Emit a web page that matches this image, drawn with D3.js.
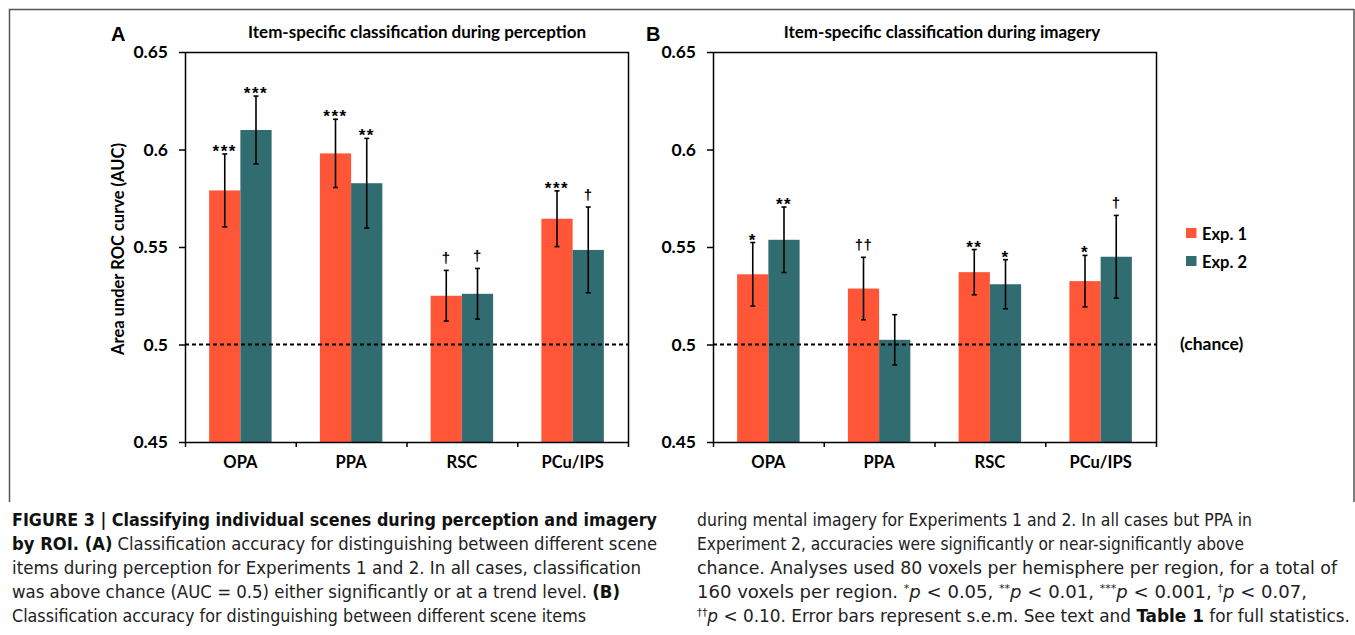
<!DOCTYPE html>
<html>
<head>
<meta charset="utf-8">
<script src="https://cdn.jsdelivr.net/npm/d3@7"></script>
<style>
  html, body { margin: 0; padding: 0; background: #fff; }
  svg { display: block; }
  .chart-text { font-family: Lato, "Open Sans", "DejaVu Sans", sans-serif; font-weight: bold; fill: #000; }
  .sig-text { font-family: "Liberation Sans", Arial, sans-serif; font-weight: bold; fill: #000; }
  .caption { font-family: "Liberation Sans Narrow", "DejaVu Sans Condensed", Roboto, sans-serif; font-size: 18px; fill: #222; }
</style>
</head>
<body>
<svg id="fig" width="1355" height="635"></svg>
<script>
// ROI categories and experiments
const categories = ["OPA", "PPA", "RSC", "PCu/IPS"];
const series = ["Exp. 1", "Exp. 2"];
const seriesColors = ["#FF5637", "#306C70"];

// y-axis ticks
const yTicks = [0.45, 0.5, 0.55, 0.6, 0.65];
const yTickLabels = ["0.45", "0.5", "0.55", "0.6", "0.65"];
const chanceLevel = 0.5;

// Panel A: perception (mean AUC and s.e.m.)
const perceptionExp1 = [0.579, 0.598, 0.525, 0.5645];
const perceptionExp1Err = [0.0187, 0.0175, 0.013, 0.0143];
const perceptionExp2 = [0.610, 0.5827, 0.526, 0.5485];
const perceptionExp2Err = [0.0174, 0.023, 0.013, 0.022];
const perceptionSig1 = ["***", "***", "\u2020", "***"];
const perceptionSig2 = ["***", "**", "\u2020", "\u2020"];

// Panel B: imagery (mean AUC and s.e.m.)
const imageryExp1 = [0.536, 0.5287, 0.5371, 0.5325];
const imageryExp1Err = [0.0163, 0.016, 0.0116, 0.0132];
const imageryExp2 = [0.5537, 0.5024, 0.5309, 0.545];
const imageryExp2Err = [0.0168, 0.0129, 0.0126, 0.0212];
const imagerySig1 = ["*", "\u2020\u2020", "**", "*"];
const imagerySig2 = ["**", "", "*", "\u2020"];

const svg = d3.select("#fig");

// outer figure frame
svg.append("path")
  .attr("d", "M9.5,502 L9.5,9.5 L1354,9.5 L1354,502")
  .attr("fill", "none").attr("stroke", "#555").attr("stroke-width", 1.5);

const plotTop = 52, plotBottom = 442;
const y = d3.scaleLinear().domain([0.45, 0.65]).range([plotBottom, plotTop]);

function panel(opts) {
  const { left, right, letter, letterX, title, titleX, means, errs, sigs } = opts;
  const g = svg.append("g");
  const x = d3.scaleBand().domain(categories).range([left, right]).paddingInner(0).paddingOuter(0);
  const xs = d3.scaleBand().domain(series).range([x.bandwidth() * 0.218, x.bandwidth() * 0.782]);

  // plot frame (top and right edges)
  g.append("path")
    .attr("d", `M${left},${plotTop + 0.5} H${right + 0.5} V${plotBottom}`)
    .attr("fill", "none").attr("stroke", "#000").attr("stroke-width", 1.5);

  // bars
  const rows = [];
  categories.forEach((c, i) => {
    series.forEach((s, j) => {
      rows.push({ c, s, j, v: means[j][i], e: errs[j][i], sig: sigs[j][i] });
    });
  });

  g.selectAll("rect.bar").data(rows).join("rect")
    .attr("class", "bar")
    .attr("x", d => x(d.c) + xs(d.s))
    .attr("width", xs.bandwidth())
    .attr("y", d => y(d.v))
    .attr("height", d => y(0.45) - y(d.v))
    .attr("fill", d => seriesColors[d.j]);

  // chance line
  g.append("line")
    .attr("x1", left).attr("x2", right)
    .attr("y1", y(chanceLevel)).attr("y2", y(chanceLevel))
    .attr("stroke", "#000").attr("stroke-width", 2).attr("stroke-dasharray", "4,3");

  // error bars
  const eb = g.selectAll("g.err").data(rows).join("g").attr("class", "err")
    .attr("transform", d => `translate(${x(d.c) + xs(d.s) + xs.bandwidth() / 2},0)`);
  eb.append("line")
    .attr("y1", d => y(d.v + d.e)).attr("y2", d => y(d.v - d.e))
    .attr("stroke", "#000").attr("stroke-width", 1.6);
  eb.append("line").attr("x1", -2.5).attr("x2", 2.5)
    .attr("y1", d => y(d.v + d.e)).attr("y2", d => y(d.v + d.e))
    .attr("stroke", "#000").attr("stroke-width", 1.6);
  eb.append("line").attr("x1", -2.5).attr("x2", 2.5)
    .attr("y1", d => y(d.v - d.e)).attr("y2", d => y(d.v - d.e))
    .attr("stroke", "#000").attr("stroke-width", 1.6);

  // significance markers
  eb.append("text")
    .attr("class", "sig-text")
    .attr("text-anchor", "middle")
    .attr("font-size", d => d.sig.includes("*") ? 17 : 15)
    .attr("letter-spacing", d => d.sig.includes("*") ? 1.5 : 0.5)
    .attr("y", d => y(d.v + d.e) - (d.sig.includes("*") ? -3 : 7))
    .text(d => d.sig);

  // y axis
  const yAxis = g.append("g")
    .attr("transform", `translate(${left},0)`)
    .call(d3.axisLeft(y).tickValues(yTicks).tickFormat((d, i) => yTickLabels[i]).tickSize(6).tickPadding(11).tickSizeOuter(0));
  yAxis.select(".domain").attr("stroke-width", 1.5);
  yAxis.selectAll(".tick line").attr("stroke-width", 1.5);
  yAxis.selectAll(".tick text").attr("class", "chart-text").attr("font-size", 17.5);

  // x axis: baseline with ticks at category boundaries
  const xb = d3.scaleLinear().domain([0, categories.length]).range([left, right]);
  const xAxis = g.append("g")
    .attr("transform", `translate(0,${plotBottom})`)
    .call(d3.axisBottom(xb).ticks(categories.length).tickFormat("").tickSize(5).tickSizeOuter(0));
  xAxis.select(".domain").attr("stroke-width", 1.5);
  xAxis.selectAll(".tick line").attr("stroke-width", 1.5);

  const xLabels = g.append("g")
    .attr("transform", `translate(0,${plotBottom})`)
    .call(d3.axisBottom(x).tickSize(0).tickPadding(14));
  xLabels.select(".domain").remove();
  xLabels.selectAll(".tick text").attr("class", "chart-text").attr("font-size", 16.5);

  // panel letter and title
  svg.append("text").attr("x", letterX).attr("y", 41)
    .attr("font-family", "Liberation Sans, Arial, sans-serif").attr("font-weight", "bold")
    .attr("font-size", 20).text(letter);
  svg.append("text").attr("class", "chart-text").attr("x", titleX).attr("y", 38)
    .attr("text-anchor", "middle").attr("font-size", 17).text(title);
}

panel({
  left: 185, right: 628, letter: "A", letterX: 111,
  title: "Item-specific classification during perception", titleX: 417,
  means: [perceptionExp1, perceptionExp2], errs: [perceptionExp1Err, perceptionExp2Err],
  sigs: [perceptionSig1, perceptionSig2]
});
panel({
  left: 713, right: 1156, letter: "B", letterX: 646,
  title: "Item-specific classification during imagery", titleX: 942,
  means: [imageryExp1, imageryExp2], errs: [imageryExp1Err, imageryExp2Err],
  sigs: [imagerySig1, imagerySig2]
});

// y-axis title
svg.append("text").attr("class", "chart-text")
  .attr("transform", `translate(124,${(plotTop + plotBottom) / 2 + 2}) rotate(-90)`)
  .attr("text-anchor", "middle").attr("font-size", 16.5)
  .text("Area under ROC curve (AUC)");

// legend
const legend = svg.append("g").attr("transform", "translate(1186,228)");
series.forEach((s, i) => {
  legend.append("rect").attr("x", 0).attr("y", i * 28).attr("width", 10.5).attr("height", 10)
    .attr("fill", seriesColors[i]);
  legend.append("text").attr("class", "chart-text").attr("x", 16).attr("y", i * 28 + 11.5)
    .attr("font-size", 16.5).text(s);
});
svg.append("text").attr("class", "chart-text").attr("x", 1180).attr("y", y(chanceLevel) + 5.5)
  .attr("font-size", 17.5).text("(chance)");

// caption
const leftLines = [
  { w: 645, parts: [{ t: "FIGURE 3 | Classifying individual scenes during perception and imagery", b: true }] },
  { w: 645, parts: [{ t: "by ROI. (A)", b: true }, { t: " Classification accuracy for distinguishing between different scene" }] },
  { w: 629, parts: [{ t: "items during perception for Experiments 1 and 2. In all cases, classification" }] },
  { w: 608, parts: [{ t: "was above chance (AUC = 0.5) either significantly or at a trend level. " }, { t: "(B)", b: true }] },
  { w: 574, parts: [{ t: "Classification accuracy for distinguishing between different scene items" }] }
];
const rightLines = [
  { w: 555, parts: [{ t: "during mental imagery for Experiments 1 and 2. In all cases but PPA in" }] },
  { w: 547, parts: [{ t: "Experiment 2, accuracies were significantly or near-significantly above" }] },
  { w: 640, parts: [{ t: "chance. Analyses used 80 voxels per hemisphere per region, for a total of" }] },
  { w: 610, parts: [
    { t: "160 voxels per region. " }, { t: "*", sup: true }, { t: "p", i: true }, { t: " < 0.05, " },
    { t: "**", sup: true }, { t: "p", i: true }, { t: " < 0.01, " },
    { t: "***", sup: true }, { t: "p", i: true }, { t: " < 0.001, " },
    { t: "\u2020", sup: true }, { t: "p", i: true }, { t: " < 0.07," }
  ] },
  { w: 653, parts: [
    { t: "\u2020\u2020", sup: true }, { t: "p", i: true },
    { t: " < 0.10. Error bars represent s.e.m. See text and " }, { t: "Table 1", b: true }, { t: " for full statistics." }
  ] }
];

function caption(lines, x0) {
  lines.forEach((ln, i) => {
    const t = svg.append("text").attr("class", "caption")
      .attr("x", x0).attr("y", 526 + i * 24)
      .attr("textLength", ln.w).attr("lengthAdjust", "spacingAndGlyphs");
    ln.parts.forEach(p => {
      const ts = t.append("tspan").text(p.t);
      if (p.b) ts.attr("font-weight", "bold").attr("fill", "#111");
      if (p.i) ts.attr("font-style", "italic");
      if (p.sup) ts.attr("font-size", 11).attr("baseline-shift", "super");
    });
  });
}
caption(leftLines, 12);
caption(rightLines, 697);
</script>
</body>
</html>
